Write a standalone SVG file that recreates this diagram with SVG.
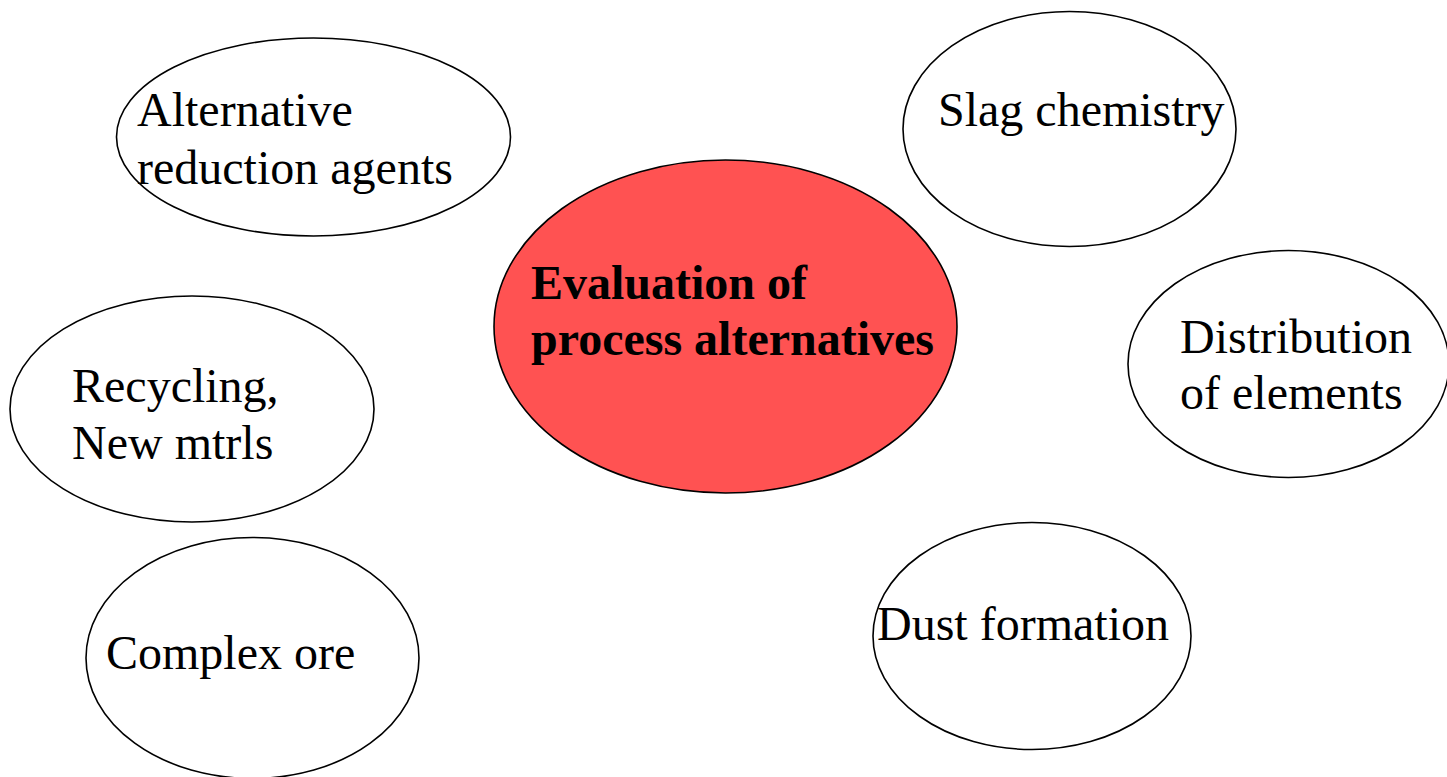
<svg xmlns="http://www.w3.org/2000/svg" width="1447" height="777" viewBox="0 0 1447 777">
<style>
.n{fill:#ffffff;stroke:#000000;stroke-width:1.6}
.c{fill:#FF5252;stroke:#000000;stroke-width:1.6}
.t{font-family:"Liberation Serif","Times New Roman",serif;font-size:48px;fill:#000000}
.b{font-weight:bold}
</style>
<rect width="1447" height="777" fill="#ffffff"/>
<g id="connectors"></g>
<g id="alt-reduction">
<ellipse class="n" cx="313.5" cy="137" rx="197" ry="99"/>
<text class="t" x="137" y="126">Alternative</text>
<text class="t" x="137" y="184">reduction agents</text>
</g>
<g id="slag">
<ellipse class="n" cx="1069.5" cy="129" rx="166.5" ry="117.5"/>
<text class="t" x="938" y="126">Slag chemistry</text>
</g>
<g id="evaluation">
<ellipse class="c" cx="725.5" cy="326.5" rx="231.5" ry="166.5"/>
<text class="t b" x="531" y="299">Evaluation of</text>
<text class="t b" x="531" y="355">process alternatives</text>
</g>
<g id="distribution">
<ellipse class="n" cx="1288.5" cy="364" rx="160.5" ry="113.5"/>
<text class="t" x="1180" y="353">Distribution</text>
<text class="t" x="1180" y="409">of elements</text>
</g>
<g id="recycling">
<ellipse class="n" cx="192" cy="409" rx="182" ry="113"/>
<text class="t" x="72" y="402">Recycling,</text>
<text class="t" x="72" y="459">New mtrls</text>
</g>
<g id="complex-ore">
<ellipse class="n" cx="252.5" cy="658" rx="166.5" ry="120.5"/>
<text class="t" x="106" y="669">Complex ore</text>
</g>
<g id="dust">
<ellipse class="n" cx="1032" cy="636" rx="159" ry="113.5"/>
<text class="t" x="877" y="640">Dust formation</text>
</g>
</svg>
